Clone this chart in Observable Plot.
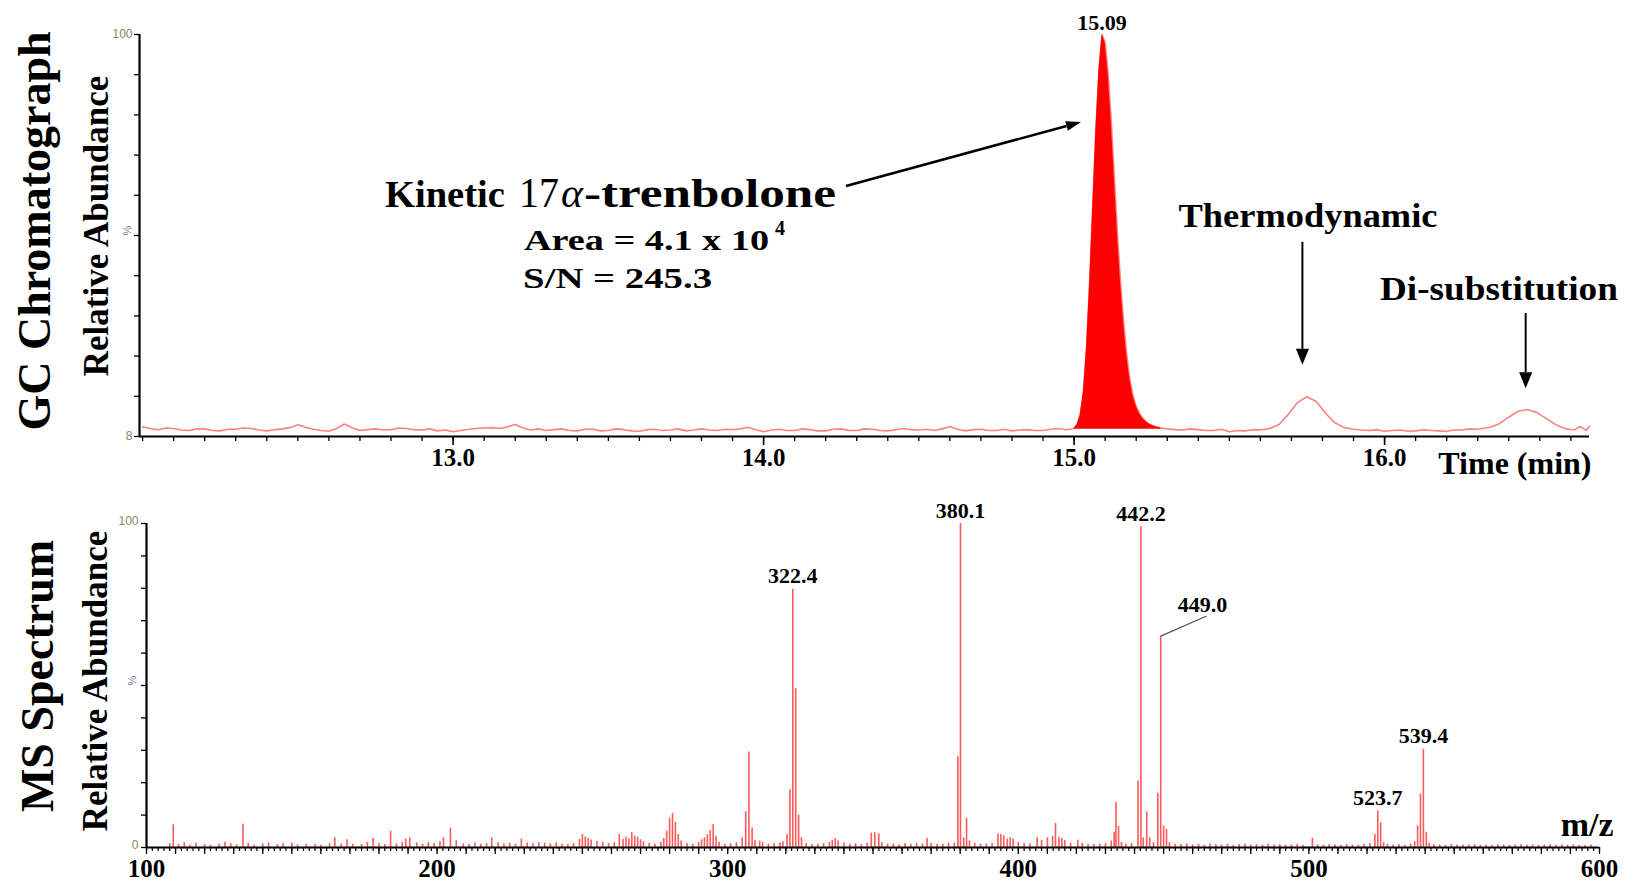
<!DOCTYPE html>
<html><head><meta charset="utf-8">
<script src="https://cdn.jsdelivr.net/npm/d3@7"></script>
<script src="https://cdn.jsdelivr.net/npm/@observablehq/plot@0.6"></script>
<style>
body{margin:0;background:#fff;}
svg{display:block;overflow:visible;}
</style></head><body>
<div id="top"></div><div id="bottom"></div>
<script>
// ---------- GC chromatogram data ----------
const gcTimeA = [12.000,12.025,12.050,12.075,12.100,12.125,12.150,12.175,12.200,12.225,12.250,12.275,12.300,12.325,12.350,12.375,12.400,12.425,12.450,12.475,12.500,12.525,12.550,12.575,12.600,12.625,12.650,12.675,12.700,12.725,12.750,12.775,12.800,12.825,12.850,12.875,12.900,12.925,12.950,12.975,13.000,13.025,13.050,13.075,13.100,13.125,13.150,13.175,13.200,13.225,13.250,13.275,13.300,13.325,13.350,13.375,13.400,13.425,13.450,13.475,13.500,13.525,13.550,13.575,13.600,13.625,13.650,13.675,13.700,13.725,13.750,13.775,13.800,13.825,13.850,13.875,13.900,13.925,13.950,13.975,14.000,14.025,14.050,14.075,14.100,14.125,14.150,14.175,14.200,14.225,14.250,14.275,14.300,14.325,14.350,14.375,14.400,14.425,14.450,14.475,14.500,14.525,14.550,14.575,14.600,14.625,14.650,14.675,14.700,14.725,14.750,14.775,14.800,14.825,14.850,14.875,14.900,14.925,14.950,14.975];
const gcAbundA = [2.4,2.0,1.7,2.1,2.0,1.6,1.5,1.9,1.9,1.5,1.4,1.8,1.8,2.1,2.0,1.6,1.4,1.7,1.9,2.2,2.9,2.3,1.8,1.5,1.3,2.0,3.1,2.2,1.5,1.7,1.9,1.6,1.7,2.1,2.0,1.7,1.6,1.9,1.4,1.6,1.2,1.5,1.8,2.0,2.1,2.2,2.0,2.4,3.0,2.1,1.6,1.9,1.5,1.7,1.9,1.5,1.4,1.8,1.8,1.4,1.5,1.9,1.7,1.4,1.3,1.7,1.8,1.5,1.6,1.9,1.4,1.6,1.9,1.6,1.5,1.8,1.7,1.9,2.3,1.7,1.2,1.6,1.8,1.5,1.5,1.9,1.7,1.4,1.4,1.8,1.9,1.5,1.5,1.9,1.8,1.5,1.4,1.7,2.0,1.7,1.6,1.8,1.5,1.9,2.5,1.8,1.4,1.7,1.8,1.5,1.5,1.8,1.4,1.6,1.7,1.5,1.5,1.8,2.0,1.7];
const peakTime = [15.00,15.01,15.02,15.03,15.04,15.05,15.06,15.07,15.08,15.09,15.10,15.11,15.12,15.13,15.14,15.15,15.16,15.17,15.18,15.19,15.20,15.21,15.22,15.23,15.24,15.25,15.26,15.27,15.28];
const peakAbund = [2.0,3.0,5.5,11,22,38,57,76,91,100,98,90,78,64,50,38,28,20,14,10,7.5,5.8,4.6,3.8,3.2,2.8,2.5,2.3,2.1];
const gcTimeB = [15.30,15.325,15.35,15.375,15.40,15.425,15.45,15.475,15.50,15.525,15.55,15.575,15.60,15.63,15.66,15.69,15.72,15.75,15.78,15.81,15.84,15.87,15.90,15.925,15.95,15.975,16.00,16.025,16.05,16.075,16.10,16.125,16.15,16.175,16.20,16.225,16.25,16.275,16.30,16.34,16.37,16.40,16.43,16.46,16.49,16.52,16.55,16.58,16.61,16.63,16.65,16.66];
const gcAbundB = [1.9,1.7,1.6,1.9,1.7,1.5,1.5,1.8,1.2,1.5,1.4,1.7,1.6,2.0,3.0,5.5,8.5,9.9,8.7,5.8,3.4,2.2,1.8,1.6,1.5,1.7,1.3,1.5,1.6,1.3,1.4,1.7,1.5,1.4,1.3,1.6,1.6,1.9,1.8,2.3,3.2,4.8,6.3,6.7,6.0,4.5,3.0,2.0,1.6,2.5,1.5,2.6];
const fillBase = 1.8;
const gcTickValues = [13, 14, 15, 16];
const gcTickLabels = ["13.0", "14.0", "15.0", "16.0"];
const gcYTickValues = [100, 0];
const gcYTickLabels = ["100", "8"];
const gcPeakLabel = {t: 15.09, v: 100, text: "15.09"};

// ---------- MS spectrum data ----------
const msMz = [108.0,109.2,111.0,113.0,115.0,117.0,120.0,122.0,125.0,127.0,129.0,131.0,133.2,135.0,137.0,140.0,142.0,145.0,147.0,150.0,152.0,155.0,158.0,160.0,163.0,164.8,167.0,169.0,171.0,174.0,176.0,178.0,180.0,182.0,184.0,186.0,188.0,189.2,190.6,193.0,195.0,197.0,199.0,201.0,202.2,204.6,206.6,209.0,211.0,213.0,215.0,217.0,218.8,221.0,223.0,225.0,227.0,229.0,231.0,233.0,235.0,237.0,239.0,241.0,243.0,245.0,247.0,249.0,250.0,251.0,252.0,253.0,255.0,257.0,259.0,261.0,262.7,264.0,265.0,266.0,267.0,268.0,269.0,270.0,271.0,273.0,275.0,277.0,278.0,279.0,280.0,281.0,282.0,283.0,284.0,286.0,288.0,290.0,291.0,292.0,293.0,294.0,295.0,296.0,297.0,299.0,301.0,303.0,305.0,306.2,307.3,308.4,309.4,311.0,312.0,314.0,316.0,318.0,319.0,320.4,321.4,322.4,323.4,324.4,325.4,327.0,329.0,331.0,333.0,335.0,336.0,337.0,338.0,340.0,342.0,344.0,346.0,348.0,349.4,350.6,352.0,353.0,355.0,357.0,359.0,361.0,363.0,365.0,367.0,368.6,370.0,372.0,374.0,376.0,378.0,379.2,380.1,381.2,382.2,383.2,385.0,387.0,389.0,391.0,393.0,394.0,395.0,396.2,397.2,398.2,400.0,402.0,404.0,406.5,408.0,410.0,411.8,412.8,414.0,415.0,416.0,418.0,420.5,422.0,424.0,426.0,428.0,430.0,432.0,433.0,433.6,434.5,435.5,437.0,439.0,441.2,442.2,443.0,444.2,445.2,446.5,448.0,449.0,450.0,451.0,452.0,454.0,456.0,458.0,460.0,462.0,464.0,466.0,468.0,470.0,472.0,474.0,476.0,478.0,480.0,482.0,484.0,486.0,488.0,490.0,492.0,494.0,496.0,498.0,501.2,503.0,505.0,507.0,509.0,511.0,513.0,515.0,517.0,519.0,521.0,522.7,523.7,524.7,525.7,527.0,529.0,531.0,533.0,535.0,536.4,537.4,538.4,539.4,540.4,541.4,543.0,545.0,547.0,549.0,551.0,553.0,555.0,557.0,559.0,561.0,563.0,565.0,567.0,569.0,571.0,573.0,575.0,577.0,579.0,581.0,583.0,585.0,587.0,589.0,591.0,593.0,595.0,597.0];
const msInt = [1.2,7.0,1.0,1.5,0.8,1.3,0.9,0.7,1.0,1.6,1.2,0.8,7.2,1.3,0.7,1.1,1.4,0.9,1.2,1.3,0.8,1.0,0.9,0.7,1.2,3.0,1.1,2.4,1.0,0.9,1.6,2.8,1.2,0.9,5.0,1.1,1.6,2.6,3.0,1.4,1.0,1.5,1.2,1.8,3.0,6.0,2.1,1.1,0.9,1.4,1.0,1.2,3.0,1.5,1.1,1.3,1.0,2.6,1.4,1.2,1.5,1.3,1.1,1.4,1.0,0.9,1.2,2.5,4.0,3.2,2.8,2.3,1.9,1.6,1.2,1.5,4.0,2.5,3.2,2.6,4.6,3.5,3.2,2.4,1.8,1.3,1.0,1.6,2.8,5.0,9.0,10.5,7.8,4.0,2.0,1.2,1.0,1.6,2.4,3.0,4.0,5.2,7.0,3.5,1.6,1.0,1.2,1.5,3.0,11.0,29.5,6.0,2.2,2.0,1.6,1.0,1.2,1.4,1.8,4.0,17.8,79.7,49.0,10.0,3.0,1.2,0.9,1.0,1.2,1.6,2.2,2.8,2.0,1.4,1.0,1.2,0.9,1.2,4.4,4.6,4.2,1.5,1.0,1.1,0.8,1.2,1.0,1.3,1.1,2.8,1.2,0.9,1.0,1.3,1.4,28.0,100,3.0,9.0,2.0,1.2,1.0,1.1,1.3,4.2,4.0,3.6,2.6,3.0,2.6,1.6,1.2,1.1,3.0,2.2,3.0,3.4,7.4,3.2,2.8,2.2,1.4,2.2,1.3,1.0,0.9,1.0,1.2,2.0,4.7,14.0,6.5,1.5,1.0,1.2,20.5,99.0,3.0,11.0,3.0,1.5,16.7,65.0,6.6,5.6,1.5,1.0,0.9,1.1,0.8,1.0,0.7,1.1,0.9,0.8,1.0,0.7,0.9,1.0,0.8,0.9,0.7,1.0,0.8,0.9,0.7,0.8,1.0,0.7,2.8,0.8,0.7,0.9,0.8,0.7,0.9,0.8,0.7,1.0,1.2,4.0,11.3,7.6,1.5,1.0,0.8,0.9,0.7,1.0,1.8,6.7,16.5,30.3,4.7,1.3,0.9,0.8,0.7,0.9,0.8,0.7,0.8,0.9,0.7,0.8,0.7,0.9,0.8,0.7,0.8,0.9,0.7,0.8,0.7,0.8,0.9,0.7,0.8,0.7,0.8,0.7,0.6,0.8];
const msLabelMz = [322.4, 380.1, 442.2, 449.0, 523.7, 539.4];
const msTickValues = [100, 200, 300, 400, 500, 600];
const msTickLabels = ["100", "200", "300", "400", "500", "600"];
const msYTickValues = [100, 0];
const msYTickLabels = ["100", "0"];

// ---------- build tables ----------
const gcTrace = [...gcTimeA.map((t,i)=>({t, v: gcAbundA[i]})),
                 ...peakTime.map((t,i)=>({t, v: peakAbund[i]})),
                 ...gcTimeB.map((t,i)=>({t, v: gcAbundB[i]}))];
const gcPeak = peakTime.map((t,i)=>({t, v: peakAbund[i]}));
const ms = msMz.map((mz,i)=>({mz, i: msInt[i]}));
const msLabels = msLabelMz.map(mz => ({mz, i: ms.find(d=>d.mz===mz).i, text: mz.toFixed(1)}));

const SERIF = "Liberation Serif, Times New Roman, serif";
const SANS = "Liberation Sans, Arial, sans-serif";
const LINE = "#ff8080", FILL = "#ff0000", BAR = "#ff5a5a";

// ---------- top: GC chromatograph ----------
const topChart = Plot.plot({
  width: 1637, height: 480,
  marginLeft: 139, marginRight: 48, marginTop: 34, marginBottom: 44,
  style: {fontFamily: SERIF, background: "white", overflow: "visible"},
  x: {domain: [11.99, 16.66]},
  y: {domain: [0, 100]},
  marks: [
    Plot.axisX(d3.range(120, 167).map(d => d / 10), {tickSize: 5, tickFormat: () => "", label: null, strokeWidth: 1.3}),
    Plot.axisX(gcTickValues, {tickSize: 9, tickFormat: () => "", label: null, strokeWidth: 1.6}),
    Plot.axisY(d3.range(0, 101, 10), {tickSize: 5, tickFormat: () => "", label: null, strokeWidth: 1.3}),
    Plot.line(gcTrace, {x: "t", y: "v", stroke: LINE, strokeWidth: 1.6}),
    Plot.areaY(gcPeak, {x: "t", y1: fillBase, y2: "v", fill: FILL}),
    Plot.ruleY([0], {strokeWidth: 2.2}),
    Plot.ruleX([11.99], {strokeWidth: 2.2}),
    Plot.text(gcTickValues, {x: d => d, text: (d, i) => gcTickLabels[i], frameAnchor: "bottom", dy: 29, fontSize: 25, fontWeight: "bold", fontFamily: SERIF}),
    Plot.text(gcYTickValues, {y: d => d, text: (d, i) => gcYTickLabels[i], frameAnchor: "left", dx: -7, textAnchor: "end", fontSize: 12, fill: "#8c8460", fontFamily: SANS}),
    Plot.text([50], {y: d => d, text: () => "%", frameAnchor: "left", dx: -12, fontSize: 11, fill: "#8a6f9a", fontFamily: SANS, rotate: -90}),
    Plot.text([gcPeakLabel], {x: "t", y: "v", text: "text", dy: -12, fontSize: 22, fontWeight: "bold", fontFamily: SERIF}),
    Plot.text(["Time (min)"], {frameAnchor: "bottom-right", textAnchor: "end", dx: 2, dy: 37, fontSize: 32, fontWeight: "bold", fontFamily: SERIF})
  ]
});
document.getElementById("top").appendChild(topChart);

// ---------- bottom: MS spectrum ----------
const botChart = Plot.plot({
  width: 1637, height: 410,
  marginLeft: 146, marginRight: 38, marginTop: 43, marginBottom: 43,
  style: {fontFamily: SERIF, background: "white", overflow: "visible"},
  x: {domain: [100, 600]},
  y: {domain: [0, 100]},
  marks: [
    Plot.axisX(d3.range(100, 601, 2), {tickSize: 4, tickFormat: () => "", label: null, strokeWidth: 1.2}),
    Plot.axisX(d3.range(100, 601, 10), {tickSize: 7, tickFormat: () => "", label: null, strokeWidth: 1.3}),
    Plot.axisY(d3.range(0, 101, 10), {tickSize: 5, tickFormat: () => "", label: null, strokeWidth: 1.3}),
    Plot.ruleX(ms, {x: "mz", y1: 0, y2: "i", stroke: BAR, strokeWidth: 1.6}),
    Plot.ruleY([0], {strokeWidth: 2.2}),
    Plot.ruleX([100], {strokeWidth: 2.2}),
    Plot.text(msTickValues, {x: d => d, text: (d, i) => msTickLabels[i], frameAnchor: "bottom", dy: 29, fontSize: 25, fontWeight: "bold", fontFamily: SERIF}),
    Plot.text(msYTickValues, {y: d => d, text: (d, i) => msYTickLabels[i], frameAnchor: "left", dx: -8, dy: -2, textAnchor: "end", fontSize: 12, fill: "#8c8460", fontFamily: SANS}),
    Plot.text([50], {y: d => d, text: () => "%", frameAnchor: "left", dx: -14, fontSize: 11, fill: "#8a6f9a", fontFamily: SANS, rotate: -90}),
    Plot.text(msLabels.filter(d => d.mz !== 449.0), {x: "mz", y: "i", text: "text", dy: -13, fontSize: 22, fontWeight: "bold", fontFamily: SERIF}),
    Plot.text(["m/z"], {frameAnchor: "bottom-right", textAnchor: "end", dx: 14, dy: -12, fontSize: 34, fontWeight: "bold", fontFamily: SERIF})
  ]
});
document.getElementById("bottom").appendChild(botChart);

// ---------- annotations ----------
function arrow(svg, x1, y1, x2, y2, head, hw, w) {
  const a = Math.atan2(y2 - y1, x2 - x1);
  const bx = x2 - head * Math.cos(a), by = y2 - head * Math.sin(a);
  svg.append("line").attr("x1", x1).attr("y1", y1).attr("x2", bx).attr("y2", by)
    .attr("stroke", "#000").attr("stroke-width", w);
  svg.append("path").attr("fill", "#000")
    .attr("d", `M${x2},${y2}L${bx + hw * Math.sin(a)},${by - hw * Math.cos(a)}L${bx - hw * Math.sin(a)},${by + hw * Math.cos(a)}Z`);
}
function label(svg, x, y, s, o) {
  const t = svg.append("text").attr("x", x).attr("y", y).text(s)
    .attr("font-family", SERIF).attr("font-size", o.size)
    .attr("font-weight", o.weight || "bold").attr("font-style", o.style || "normal")
    .attr("text-anchor", o.anchor || "start").attr("fill", "#000");
  if (o.len) t.attr("textLength", o.len).attr("lengthAdjust", "spacingAndGlyphs");
  return t;
}
{
  const svg = d3.select(topChart);
  const X = topChart.scale("x"), Y = topChart.scale("y");
  const px = t => X.apply(t), py = v => Y.apply(v);
  // Kinetic 17α-trenbolone
  const kx = px(12.782), ky = py(57.0);
  label(svg, kx, ky, "Kinetic", {size: 38, len: 120});
  label(svg, kx + 134, ky, "17", {size: 42, weight: "normal", len: 40});
  label(svg, kx + 176, ky, "α", {size: 42, weight: "normal", style: "italic", len: 22});
  label(svg, kx + 199, ky, "-trenbolone", {size: 40, len: 252});
  const ax = px(13.230), ay = py(46.3);
  label(svg, ax, ay, "Area = 4.1 x 10", {size: 30, len: 245});
  label(svg, ax + 251, ay - 15, "4", {size: 20});
  label(svg, px(13.227), py(36.8), "S/N = 245.3", {size: 30, len: 189});
  arrow(svg, px(14.267), py(62.2), px(15.024), py(78.1), 15, 5, 2.6);
  // Thermodynamic
  label(svg, px(15.755), py(52.1), "Thermodynamic", {size: 33, anchor: "middle", len: 259});
  arrow(svg, px(15.737), py(48.3), px(15.737), py(17.7), 16, 6.5, 2);
  // Di-substitution
  label(svg, px(16.37), py(33.8), "Di-substitution", {size: 33, anchor: "middle", len: 238});
  arrow(svg, px(16.456), py(30.6), px(16.456), py(11.9), 16, 6.5, 2);
  // rotated titles
  svg.append("text").attr("transform", "translate(50,231) rotate(-90)").attr("text-anchor", "middle")
    .attr("font-family", SERIF).attr("font-weight", "bold").attr("font-size", 46).text("GC Chromatograph");
  svg.append("text").attr("transform", "translate(108,226) rotate(-90)").attr("text-anchor", "middle")
    .attr("font-family", SERIF).attr("font-weight", "bold").attr("font-size", 35).text("Relative Abundance");
}
{
  const svg = d3.select(botChart);
  const X = botChart.scale("x"), Y = botChart.scale("y");
  const px = t => X.apply(t), py = v => Y.apply(v);
  const l449 = msLabels.find(d => d.mz === 449.0);
  svg.append("line").attr("x1", px(l449.mz)).attr("y1", py(l449.i))
    .attr("x2", px(465.0)).attr("y2", py(71.3)).attr("stroke", "#555").attr("stroke-width", 1.3);
  label(svg, px(463.6), py(72.4), l449.text, {size: 22, anchor: "middle"});
  svg.append("text").attr("transform", "translate(53,196) rotate(-90)").attr("text-anchor", "middle")
    .attr("font-family", SERIF).attr("font-weight", "bold").attr("font-size", 46).text("MS Spectrum");
  svg.append("text").attr("transform", "translate(107,201) rotate(-90)").attr("text-anchor", "middle")
    .attr("font-family", SERIF).attr("font-weight", "bold").attr("font-size", 35).text("Relative Abundance");
}
</script>
</body></html>
